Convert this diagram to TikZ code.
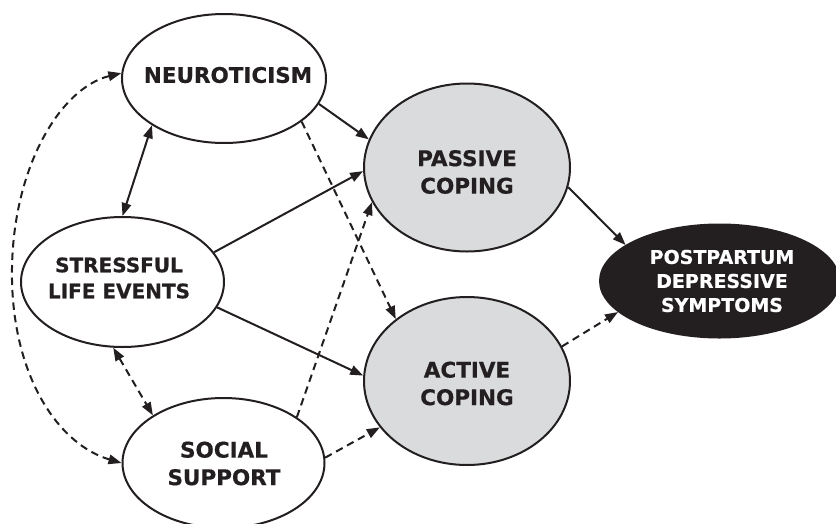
\documentclass[tikz,border=0pt]{standalone}
\usepackage{fontspec}
\newfontfamily\lblfont{DejaVu Sans}[BoldFeatures={FakeBold=0.6}]
\usetikzlibrary{shapes.geometric,arrows.meta}
\definecolor{ink}{RGB}{35,31,32}
\definecolor{copefill}{RGB}{218,219,221}
\begin{document}
\begin{tikzpicture}[x=1pt,y=-1pt,
  var/.style={ellipse, draw=ink, line width=2pt, inner sep=0pt},
  lbl/.style={text=ink, align=center, inner sep=0pt,
    font=\lblfont\bfseries\fontsize{21.5pt}{27.5pt}\selectfont},
  tip/.style={-{Triangle[length=13pt,width=9.5pt]}},
  twotip/.style={{Triangle[length=13pt,width=9.5pt]}-{Triangle[length=13pt,width=9.5pt]}},
  link/.style={draw=ink, line width=2pt},
  dlink/.style={link, dash pattern=on 7.5pt off 5pt}]
\useasboundingbox (0,0) rectangle (836,523);
\fill[white] (0,0) rectangle (836,523);

% latent variables
\node[var, minimum width=204pt, minimum height=129pt] (neu) at (224,78.5) {};
\node[var, minimum width=203pt, minimum height=130pt] (str) at (122.5,282) {};
\node[var, minimum width=202pt, minimum height=130pt] (soc) at (223.5,463) {};
\node[var, fill=copefill, minimum width=206pt, minimum height=168pt] (pas) at (467,167.5) {};
\node[var, fill=copefill, minimum width=206pt, minimum height=168pt] (act) at (467,381) {};
\node[var, fill=ink, minimum width=239pt, minimum height=113pt] (pds) at (719.5,281) {};

% labels
\node[lbl] (neu-t) at (228,75) {NEUROTICISM};
\node[lbl, font=\lblfont\bfseries\fontsize{20pt}{26pt}\selectfont] (str-t) at (119,278) {STRESSFUL\\LIFE EVENTS};
\node[lbl] (soc-t) at (224,463.5) {SOCIAL\\SUPPORT};
\node[lbl] (pas-t) at (467,172) {PASSIVE\\COPING};
\node[lbl] (act-t) at (467,383.5) {ACTIVE\\COPING};
\node[lbl, text=white, font=\lblfont\bfseries\fontsize{19pt}{24pt}\selectfont] (pds-t) at (722,281) {POSTPARTUM\\DEPRESSIVE\\SYMPTOMS};

% paths to the coping styles
\draw[link, tip] (neu.-15) -- (pas.164);
\draw[dlink, tip] (neu.-29) -- (act.139);
\draw[link, tip] (str.18) -- (pas.182);
\draw[link, tip] (str.-15) -- (act.177);
\draw[dlink, tip] (soc.32) -- (pas.200);
\draw[dlink, tip] (soc.3) -- (act.208);

% correlations among the predictors
\draw[link, twotip] (neu.213) -- (str.90);
\draw[dlink, twotip] (str.262) -- (soc.146);
\draw[dlink, twotip] (neu.177) .. controls (60,88) and (10,170) .. (12,280)
  .. controls (14,380) and (60,445) .. (soc.180);

% paths to the outcome
\draw[link, tip] (pas.-11) -- (pds.159);
\draw[dlink, tip] (act.20) -- (pds.197);
\end{tikzpicture}
\end{document}
